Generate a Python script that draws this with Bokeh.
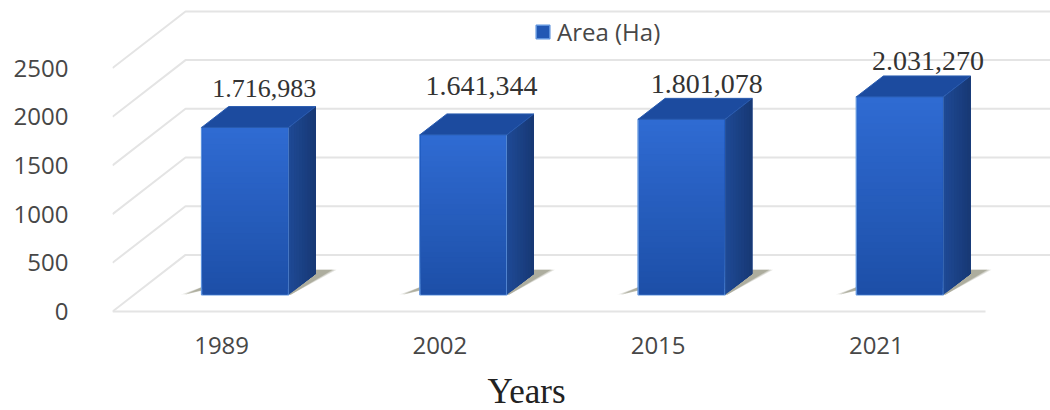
from bokeh.plotting import figure
from bokeh.embed import file_html
from bokeh.resources import INLINE
from bokeh.models import ColumnDataSource, FixedTicker, Legend, LegendItem, Range1d, Title
from bokeh.core.properties import value
import numpy as np

# Chart data
years = ["1989", "2002", "2015", "2021"]
area_ha = [1716.983, 1641.344, 1801.078, 2031.270]
area_labels = ["1.716,983", "1.641,344", "1.801,078", "2.031,270"]
y_ticks = [0, 500, 1000, 1500, 2000, 2500]

# Canvas and plotting frame, in pixels
W, H = 1050, 410
LEFT, BOTTOM_GAP, FLOOR_PX = 112, 94, 313
PX_PER_CAT = 218.25
PX_PER_UNIT = 0.098


def dx(px):
    return px / PX_PER_CAT


def dy(px):
    return px / PX_PER_UNIT


x_start = -0.5
x_end = x_start + dx(W - LEFT)
y_start = -dy(H - BOTTOM_GAP - FLOOR_PX)
y_end = dy(FLOOR_PX)

p = figure(width=W, height=H, output_backend="svg", toolbar_location=None,
           x_range=Range1d(x_start, x_end), y_range=Range1d(y_start, y_end),
           min_border_left=LEFT, min_border_right=0, min_border_top=0,
           min_border_bottom=BOTTOM_GAP, outline_line_color=None,
           background_fill_color="white", border_fill_color="white")
p.grid.visible = False

LABEL_FONT = "Open Sans"
LABEL_COLOR = "#474747"

ax = p.yaxis[0]
ax.ticker = FixedTicker(ticks=y_ticks)
ax.axis_line_color = None
ax.major_tick_line_color = None
ax.minor_tick_line_color = None
ax.major_label_standoff = 38
ax.major_label_text_font = LABEL_FONT
ax.major_label_text_font_size = "24px"
ax.major_label_text_color = LABEL_COLOR

bx = p.xaxis[0]
bx.ticker = FixedTicker(ticks=list(range(len(years))))
bx.major_label_overrides = {i: y for i, y in enumerate(years)}
bx.axis_line_color = None
bx.major_tick_line_color = None
bx.minor_tick_line_color = None
bx.major_label_standoff = 16
bx.major_label_text_font = LABEL_FONT
bx.major_label_text_font_size = "24px"
bx.major_label_text_color = LABEL_COLOR

# Oblique wall and floor: side-wall diagonals, back-wall lines, front floor line
WALL_DX, WALL_DY = dx(73), dy(57)
GRID = "#e4e4e4"
for t in y_ticks:
    p.line([x_start, x_start + WALL_DX, x_end], [t, t + WALL_DY, t + WALL_DY],
           line_color=GRID, line_width=2)
p.line([x_start, x_start + dx(873)], [0, 0], line_color=GRID, line_width=2)

# Bar geometry relative to the category position on the floor
FRONT_X, FRONT_Y = dx(23.5 - 43.5), dy(17)
BAR_W = dx(87)
SIDE_DX, SIDE_DY = dx(27), dy(21)


def mix(c1, c2, t):
    a = np.array(c1, float)
    b = np.array(c2, float)
    r, g, bl = (a + (b - a) * t).round().astype(int)
    return f"#{r:02x}{g:02x}{bl:02x}"


# Ground shadows
for i in range(len(years)):
    x0 = i + FRONT_X
    for grow, alpha in ((4, 0.22), (2, 0.3), (0, 0.5)):
        p.patch([x0 - dx(17 + grow), x0 + dx(6), x0 + BAR_W + dx(2),
                 x0 + BAR_W + SIDE_DX + dx(17 + grow), x0 + BAR_W],
                [FRONT_Y, FRONT_Y + dy(10), FRONT_Y,
                 FRONT_Y + dy(25), FRONT_Y + dy(25)],
                fill_color="#8f8f7a", fill_alpha=alpha, line_color=None)

# Front faces: a base bar, carrying the legend entry, with a gradient over it
x_left = [i + FRONT_X for i in range(len(years))]
front_src = ColumnDataSource(dict(
    left=x_left, right=[x + BAR_W for x in x_left],
    bottom=[FRONT_Y] * len(years), top=[FRONT_Y + v for v in area_ha]))
bars = p.quad(left="left", right="right", bottom="bottom", top="top", source=front_src,
              fill_color="#2258b4", line_color="#5f93dd", line_width=1.5)

BANDS = 30
for i, v in enumerate(area_ha):
    x0 = x_left[i]
    top = FRONT_Y + v
    # Nested rectangles painted bottom-up, so no seams show between shades
    edges = np.linspace(0, v, BANDS, endpoint=False) + FRONT_Y
    colors = [mix((0x1d, 0x4f, 0xa8), (0x2f, 0x6b, 0xd2), k / (BANDS - 1)) for k in range(BANDS)]
    p.quad(left=x0 + dx(1), right=x0 + BAR_W - dx(1), bottom=edges, top=top,
           fill_color=colors, line_color=None)

    # Side face, darkening towards the back edge; painted front to back
    strips = 10
    back_x, back_b, back_t = x0 + BAR_W + SIDE_DX, FRONT_Y + SIDE_DY, top + SIDE_DY
    xs, ys, cols = [], [], []
    for k in range(strips):
        a = k / strips
        xs.append([x0 + BAR_W + SIDE_DX * a, back_x, back_x, x0 + BAR_W + SIDE_DX * a])
        ys.append([FRONT_Y + SIDE_DY * a, back_b, back_t, top + SIDE_DY * a])
        cols.append(mix((0x1e, 0x49, 0x94), (0x17, 0x37, 0x72), a))
    p.patches(xs, ys, fill_color=cols, line_color=None)

    # Top face
    p.patch([x0, x0 + BAR_W, back_x, x0 + SIDE_DX],
            [top, top, back_t, back_t],
            fill_color="#1c4b9f", line_color="#2a5cb0", line_width=1)

# Value labels sit above each bar, nudged individually
label_dx = [19, 18, 25, 28]
label_dy = [-39, -49, -35, -36]
label_sizes = ["26px", "28px", "28px", "28px"]
label_src = ColumnDataSource(dict(
    x=[i + FRONT_X + BAR_W / 2 for i in range(len(years))],
    y=[FRONT_Y + v for v in area_ha], text=area_labels,
    xo=label_dx, yo=label_dy, size=label_sizes))
p.text(x="x", y="y", text="text", source=label_src, x_offset="xo", y_offset="yo",
       text_font=value("Liberation Serif"), text_font_size="size", text_color="#333333",
       text_align="center", text_baseline="middle")

legend = Legend(items=[LegendItem(label="Area (Ha)", renderers=[bars], index=0)],
                location=(422, 266), orientation="horizontal",
                background_fill_alpha=0, border_line_color=None,
                label_text_font="Open Sans", label_text_font_size="24px",
                label_text_color="#474747", glyph_width=17, glyph_height=17,
                padding=3, margin=0, label_standoff=6)
p.add_layout(legend, "center")

# Axis title in the panel below the axis, shifted under the back wall;
# a blank title above it opens the gap between tick labels and title
p.add_layout(Title(text=" ", text_font_size="8px", standoff=2), "below")
p.add_layout(Title(text="Years", align="left", offset=375, standoff=0,
                   text_font="Liberation Serif", text_font_size="35px",
                   text_font_style="normal", text_color="#222222",
                   text_line_height=0.85), "below")

open("out.html", "w").write(file_html(p, INLINE))
